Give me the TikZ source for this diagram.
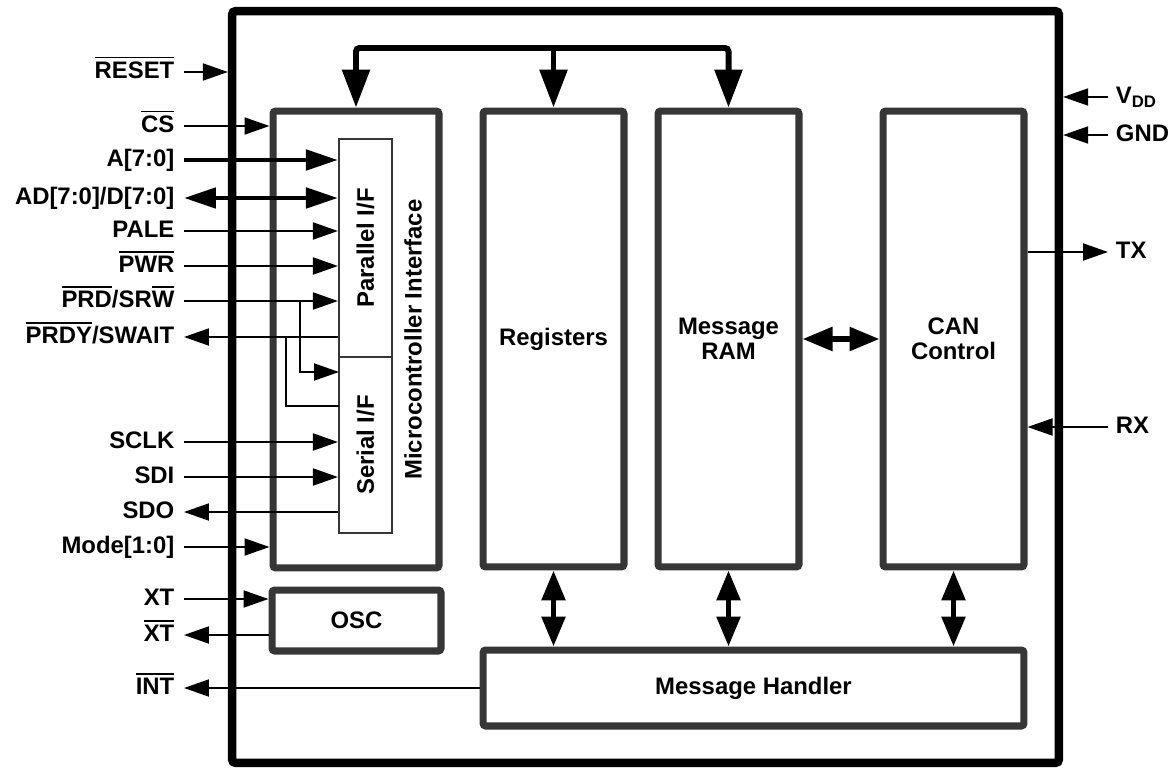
\documentclass[tikz,border=0pt]{standalone}
\usepackage{fontspec}
\setmainfont{Liberation Sans}
\usetikzlibrary{arrows.meta}

\definecolor{boxgray}{HTML}{363636}
\newcommand{\ovl}[1]{\leavevmode\vbox{\hrule height 1pt\kern 1.8pt\hbox{#1}}}

\tikzset{
  chip/.style={draw, line width=4.8pt, rounded corners=2pt, inner sep=0pt},
  blk/.style={draw=boxgray, line width=4pt, rounded corners=1.5pt, inner sep=0pt, align=center},
  ifbox/.style={draw=boxgray, line width=1.2pt, inner sep=0pt},
  pinl/.style={anchor=east, inner sep=0pt, outer xsep=5.5pt, text height=0.966em, text depth=0.25em},
  pinr/.style={anchor=west, inner sep=0pt, outer xsep=4.5pt, text height=0.966em, text depth=0.25em},
  wire/.style={line width=1.1pt},
  sig/.style={line width=1.1pt, -{Triangle[length=0.5cm,width=0.34cm]}},
  wsig/.style={line width=2.8pt, -{Triangle[length=0.64cm,width=0.4cm]}},
  bus/.style={line width=3.4pt, rounded corners=2pt},
  dbl/.style={line width=3.2pt, {Triangle[length=0.6cm,width=0.46cm]}-{Triangle[length=0.6cm,width=0.46cm]}}
}

\begin{document}
\begin{tikzpicture}[x=0.02cm, y=-0.02cm, font=\bfseries\fontsize{13.6}{14}\selectfont]
    \useasboundingbox (0,0) rectangle (1175,767);

    % chip and blocks
    \node[chip, minimum width=16.54cm, minimum height=15.04cm] (chip) at (645.5,387) {};
    \node[blk, minimum width=3.32cm, minimum height=9.14cm] (mcu) at (356,339.5) {};
    \node[rotate=90] (mcutxt) at (413,339.5) {Microcontroller Interface};
    \node[ifbox, minimum width=1.06cm, minimum height=4.36cm,
          label={[rotate=90]center:Parallel I/F}] (par) at (365.5,248) {};
    \node[ifbox, minimum width=1.06cm, minimum height=3.52cm,
          label={[rotate=90]center:Serial I/F}] (ser) at (365.5,445) {};
    \node[blk, minimum width=2.82cm, minimum height=9.12cm] (regs) at (553.5,339) {Registers};
    \node[blk, minimum width=2.82cm, minimum height=9.12cm] (ram) at (728.5,339) {Message\\RAM};
    \node[blk, minimum width=2.82cm, minimum height=9.12cm] (can) at (953.5,339) {CAN\\Control};
    \node[blk, minimum width=3.38cm, minimum height=1.22cm] (osc) at (356.5,620.5) {OSC};
    \node[blk, minimum width=10.82cm, minimum height=1.52cm] (mh) at (753.5,688) {Message Handler};

    % left pins
    \node[pinl] (reset) at (184,72) {\ovl{RESET}};
    \node[pinl] (cs) at (184,126) {\ovl{CS}};
    \node[pinl] (addr) at (184,160) {A[7:0]};
    \node[pinl] (data) at (184,198) {AD[7:0]/D[7:0]};
    \node[pinl] (pale) at (184,231) {PALE};
    \node[pinl] (pwr) at (184,266) {\ovl{PWR}};
    \node[pinl] (prd) at (184,301) {\ovl{PRD}/SR\ovl{W}};
    \node[pinl] (prdy) at (184,337) {\ovl{PRDY}/SWAIT};
    \node[pinl] (sclk) at (184,442) {SCLK};
    \node[pinl] (sdi) at (184,477) {SDI};
    \node[pinl] (sdo) at (184,512) {SDO};
    \node[pinl] (mode) at (184,547) {Mode[1:0]};
    \node[pinl] (xt) at (184,599) {XT};
    \node[pinl] (xtb) at (184,635) {\ovl{XT}};
    \node[pinl] (int) at (184,688) {\ovl{INT}};

    % right pins
    \node[pinr] (vdd) at (1108,97) {V\textsubscript{DD}};
    \node[pinr] (gnd) at (1108,135) {GND};
    \node[pinr] (tx) at (1108,252) {TX};
    \node[pinr] (rx) at (1108,427) {RX};

    \draw[sig] (reset.east) -- (reset.east -| chip.west);
    \draw[sig] (cs.east) -- (cs.east -| mcu.west);
    \draw[wsig] (addr.east) -- (addr.east -| par.west);
    \draw[wsig, {Triangle[length=0.64cm,width=0.4cm]}-{Triangle[length=0.64cm,width=0.4cm]}] (data.east) -- (data.east -| par.west);
    \draw[sig] (pale.east) -- (pale.east -| par.west);
    \draw[sig] (pwr.east) -- (pwr.east -| par.west);
    \draw[sig] (prd.east) -- (prd.east -| par.west);
    \draw[sig] (prdy.east -| par.west) -- (prdy.east);
    \draw[sig] (sclk.east) -- (sclk.east -| ser.west);
    \draw[sig] (sdi.east) -- (sdi.east -| ser.west);
    \draw[sig] (sdo.east -| ser.west) -- (sdo.east);
    \draw[sig] (mode.east) -- (mode.east -| mcu.west);
    \draw[sig] (xt.east) -- (xt.east -| osc.west);
    \draw[sig] (xtb.east -| osc.west) -- (xtb.east);
    \draw[sig] (mh.west) -- (int.east);

    % serial taps
    \coordinate (srwtap) at (300,301);
    \coordinate (srwin) at (339,372);
    \coordinate (waittap) at (286,337);
    \coordinate (waitout) at (339,406);
    \draw[sig] (srwtap) |- (srwin);
    \draw[wire] (waitout) -| (waittap);

    \draw[sig] (vdd.west) -- (vdd.west -| chip.east);
    \draw[sig] (gnd.west) -- (gnd.west -| chip.east);
    \draw[sig] (tx.west -| can.east) -- (tx.west);
    \draw[sig] (rx.west) -- (rx.west -| can.east);

    % internal bus
    \coordinate (bustop) at (0,48);
    \draw[bus, {Triangle[length=0.76cm,width=0.54cm]}-{Triangle[length=0.76cm,width=0.54cm]}]
      (mcu.north) |- (ram.north |- bustop) -- (ram.north);
    \draw[bus, -{Triangle[length=0.76cm,width=0.54cm]}] (regs.north |- bustop) -- (regs.north);

    \draw[dbl] (ram.east) -- (can.west);
    \draw[dbl] (regs.south) -- (regs.south |- mh.north);
    \draw[dbl] (ram.south) -- (ram.south |- mh.north);
    \draw[dbl] (can.south) -- (can.south |- mh.north);
\end{tikzpicture}
\end{document}
